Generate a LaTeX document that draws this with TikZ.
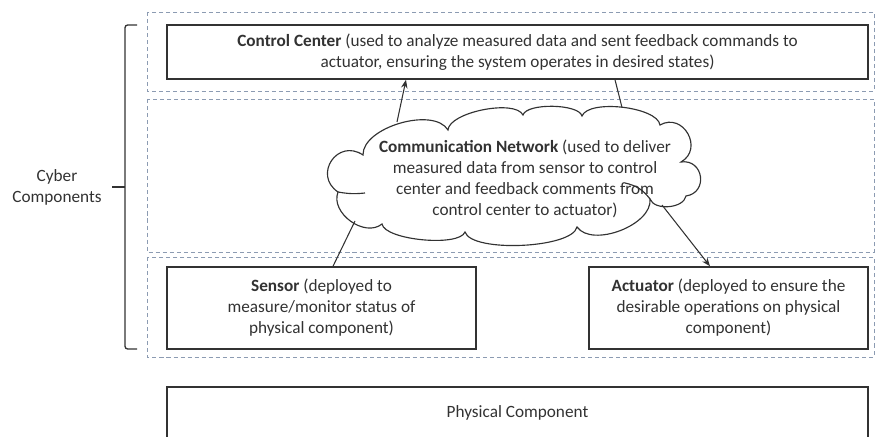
\documentclass[tikz,border=0pt]{standalone}
\usepackage{fontspec}
\setmainfont{Carlito}
\usepackage{xcolor}
\usepackage{tikz}
\usetikzlibrary{positioning,arrows.meta,calc}
\definecolor{inkgray}{RGB}{50,50,50}
\definecolor{layerblue}{RGB}{140,155,178}
\newcommand{\bodyfont}{\fontsize{9.8}{11.9}\selectfont}
\tikzset{
  layer/.style={draw=layerblue, dash pattern=on 2.3pt off 1.7pt, line width=0.5pt},
  compbox/.style={draw=inkgray, line width=0.85pt, align=center, font=\bodyfont,
                  text=inkgray, inner sep=0pt},
  cloudline/.style={draw=inkgray, line width=0.65pt},
  nettxt/.style={align=center, font=\bodyfont, text=inkgray, inner sep=0pt},
  link/.style={draw=inkgray, line width=0.6pt},
  arr/.style={link, -{Stealth[length=1.7mm, width=1.3mm]}},
  bracket/.style={draw=inkgray, line width=0.75pt, rounded corners=1.5pt},
  sidelbl/.style={align=center, font=\bodyfont, text=inkgray}
}

\begin{document}
\begin{tikzpicture}
\useasboundingbox (0,0) rectangle (17.5,8.72);
% dashed layers
\draw[layer] (2.94,8.48) rectangle (17.48,6.90);
\draw[layer] (2.94,6.74) rectangle (17.48,3.68);
\draw[layer] (2.94,3.58) rectangle (17.48,1.58);
% components
\node[compbox, minimum width=14.02cm, minimum height=1.08cm] (cc) at (10.35,7.68)
  {\textbf{Control Center} (used to analyze measured data and sent feedback commands to\\
   actuator, ensuring the system operates in desired states)};
\node[compbox, minimum width=6.18cm, minimum height=1.64cm] (sensor) at (6.43,2.56)
  {\textbf{Sensor} (deployed to\\ measure/monitor status of\\ physical component)};
\node[compbox, minimum width=5.58cm, minimum height=1.64cm] (act) at (14.57,2.56)
  {\textbf{Actuator} (deployed to ensure the\\ desirable operations on physical\\ component)};
\node[compbox, minimum width=14.02cm, minimum height=1.04cm] (phys) at (10.35,0.46)
  {Physical Component};
% network cloud
\draw[cloudline] (6.76,4.88)
  to[bend left=90, looseness=1.75] (7.26,5.62)
  to[bend left=75, looseness=0.8]  (8.96,6.12)
  to[bend left=75, looseness=0.6]  (10.46,6.42)
  to[bend left=75, looseness=0.55] (11.64,6.40)
  to[bend left=75, looseness=0.6]  (13.20,6.22)
  to[bend left=90, looseness=1.6]  (13.62,5.48)
  to[bend left=90, looseness=1.7]  (13.72,4.80)
  to[bend left=75, looseness=0.9]  (13.00,4.74)
  to[bend left=75, looseness=0.85] (11.54,4.18)
  to[bend left=75, looseness=0.5]  (9.30,4.08)
  to[bend left=75, looseness=0.5]  (7.64,4.24)
  to[bend left=75, looseness=1.05] cycle;
\draw[cloudline] (6.76,4.88) to[bend right=8] (7.30,4.86);
\draw[cloudline] (13.00,4.74) to[bend right=20] (12.50,5.06);
\node[nettxt] (net) at (10.5,5.14)
  {\textbf{Communication Network} (used to deliver\\ measured data from sensor to control\\
   center and feedback comments from\\ control center to actuator)};
\coordinate (netcc) at (7.94,6.28);
\coordinate (netback) at (12.44,6.57);
\coordinate (netsens) at (7.10,4.30);
\coordinate (netact) at (13.24,4.62);
% links
\draw[arr] (netcc) -- ($(cc.south)+(-2.23,0)$);
\draw[link] ($(cc.south)+(1.95,0)$) -- (netback);
\draw[link] ($(sensor.north)+(0.23,0)$) -- (netsens);
\draw[arr] (netact) -- ($(act.north)+(-0.37,0)$);
% bracket
\draw[bracket] (2.74,8.22) -- (2.5,8.22) -- (2.5,1.74) -- (2.74,1.74);
\draw[bracket] (2.24,4.98) -- (2.5,4.98);
\node[sidelbl] (cyber) at (1.14,4.98) {Cyber\\ Components};
\end{tikzpicture}
\end{document}
